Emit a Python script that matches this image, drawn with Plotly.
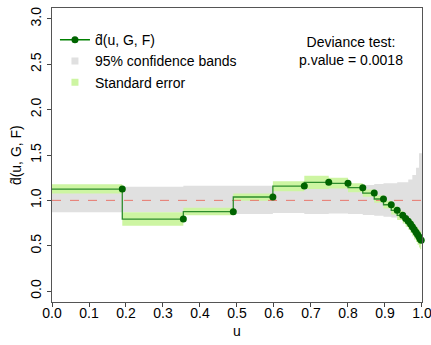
import plotly.graph_objects as go

# step estimate: value d on interval ending at u
u_pts = [0.19, 0.355, 0.49, 0.597, 0.682, 0.748, 0.80, 0.84, 0.871, 0.896, 0.917, 0.933,
         0.948, 0.956, 0.963, 0.969, 0.974, 0.979, 0.984, 0.988, 0.992, 0.995, 0.998]
d_pts = [1.125, 0.794, 0.875, 1.037, 1.158, 1.199, 1.188, 1.14, 1.08, 1.015, 0.952, 0.89,
         0.835, 0.80, 0.77, 0.74, 0.71, 0.68, 0.65, 0.625, 0.60, 0.575, 0.56]
se_lo = [1.077, 0.72, 0.835, 0.995, 1.10, 1.125, 1.13, 1.09, 1.04, 0.975, 0.91, 0.845,
         0.785, 0.745, 0.71, 0.675, 0.64, 0.605, 0.57, 0.54, 0.51, 0.48, 0.46]
se_hi = [1.177, 0.868, 0.92, 1.075, 1.21, 1.27, 1.25, 1.19, 1.12, 1.055, 0.995, 0.935,
         0.885, 0.855, 0.83, 0.805, 0.78, 0.755, 0.73, 0.71, 0.69, 0.67, 0.66]

# 95% confidence bands under H0
ci_u = [0.19, 0.355, 0.49, 0.597, 0.682, 0.748, 0.80, 0.84, 0.871, 0.896, 0.917, 0.933,
        0.948, 0.963, 0.974, 0.984, 0.992, 1.0]
ci_lo = [0.87, 0.87, 0.85, 0.85, 0.86, 0.85, 0.855, 0.85, 0.84, 0.83, 0.82, 0.81,
         0.80, 0.78, 0.76, 0.72, 0.68, 0.60]
ci_hi = [1.15, 1.15, 1.16, 1.16, 1.15, 1.16, 1.16, 1.17, 1.17, 1.18, 1.19, 1.19,
         1.20, 1.20, 1.23, 1.28, 1.36, 1.52]

x_ticks = [i / 10 for i in range(11)]
y_ticks = [0, 0.5, 1.0, 1.5, 2.0, 2.5, 3.0]

label = "d\u0302(u, G, F)"
font = "Liberation Sans, Arial, sans-serif"

fig = go.Figure()

def band(xs, lo, hi, color):
    # step-shaped filled band starting at u = 0
    fig.add_trace(go.Scatter(x=[0] + xs, y=[lo[0]] + lo, mode="lines", line_shape="vh",
                             line=dict(width=0), showlegend=False, hoverinfo="skip"))
    fig.add_trace(go.Scatter(x=[0] + xs, y=[hi[0]] + hi, mode="lines", line_shape="vh",
                             line=dict(width=0), fill="tonexty", fillcolor=color,
                             showlegend=False, hoverinfo="skip"))

band(ci_u, ci_lo, ci_hi, "#e0e0e0")
band(u_pts, se_lo, se_hi, "#cdf5a2")

# reference level d = 1
fig.add_trace(go.Scatter(x=[0, 1], y=[1, 1], mode="lines", showlegend=False,
                         line=dict(color="#e8776c", width=1, dash="dash")))

fig.add_trace(go.Scatter(x=[0] + u_pts, y=[d_pts[0]] + d_pts, mode="lines", line_shape="vh",
                         line=dict(color="rgb(45,140,45)", width=1.3), showlegend=False))
fig.add_trace(go.Scatter(x=u_pts, y=d_pts, mode="markers", cliponaxis=False,
                         marker=dict(color="#006400", size=7), showlegend=False))

# legend entries
fig.add_trace(go.Scatter(x=[None], y=[None], mode="lines+markers", name=label,
                         line=dict(color="#008000", width=1.5),
                         marker=dict(color="#006400", size=7)))
fig.add_trace(go.Scatter(x=[None], y=[None], mode="markers", name="95% confidence bands",
                         marker=dict(color="#e0e0e0", size=7, symbol="square")))
fig.add_trace(go.Scatter(x=[None], y=[None], mode="markers", name="Standard error",
                         marker=dict(color="#cdf5a2", size=7, symbol="square")))

fig.add_annotation(x=0.808, y=0.855, xref="x", yref="paper",
                   text="Deviance test:<br>p.value = 0.0018", showarrow=False,
                   xanchor="center", yanchor="middle",
                   font=dict(size=14, color="black"), align="center")
# axis titles
fig.add_annotation(x=-0.097, y=0.5, xref="paper", yref="paper", text=label, textangle=-90,
                   xanchor="center", yanchor="middle", showarrow=False,
                   font=dict(size=14, color="black"))
fig.add_annotation(x=0.5, y=-0.099, xref="paper", yref="paper", text="u",
                   xanchor="center", yanchor="middle", showarrow=False,
                   font=dict(size=14, color="black"))

fig.update_xaxes(range=[0, 1.0001], tickvals=x_ticks, tickformat=".1f", ticks="outside",
                 ticklen=4, ticklabeloverflow="allow", ticklabelstandoff=-6,
                 showline=True, mirror=True, linecolor="#555", linewidth=1, showgrid=False,
                 zeroline=False, automargin=False, tickfont=dict(size=14))
fig.update_yaxes(range=[-0.12, 3.12], tickvals=y_ticks, tickformat=".1f", ticks="outside",
                 ticklen=4, tickangle=-90, showline=True, mirror=True, linecolor="#555",
                 linewidth=1, showgrid=False, zeroline=False, automargin=False,
                 tickfont=dict(size=14))

fig.update_layout(width=431, height=345, margin=dict(l=52, r=9, t=8, b=43, autoexpand=False),
                  plot_bgcolor="white", paper_bgcolor="white",
                  font=dict(family=font, size=14, color="black"),
                  legend=dict(x=0.008, y=0.945, xanchor="left", yanchor="top",
                              bgcolor="rgba(0,0,0,0)", tracegroupgap=0, traceorder="normal",
                              font=dict(size=14)))

# drop the browser's default page margin so the figure sits at the window corner
fig.write_html("out.html", config={"displayModeBar": False},
               post_script="document.body.style.margin = '0';")
